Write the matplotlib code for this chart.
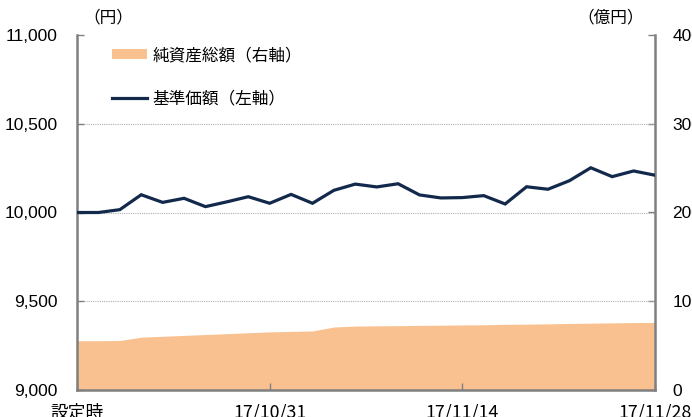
import matplotlib
matplotlib.use("Agg")
import matplotlib.pyplot as plt
from matplotlib.patches import Patch
from matplotlib.lines import Line2D

# ---- data ----
nav = [10000, 10000, 10016, 10100, 10057, 10080, 10033, 10060, 10089, 10052,
       10102, 10052, 10125, 10160, 10144, 10162, 10099, 10082, 10084, 10095,
       10048, 10145, 10131, 10179, 10252, 10202, 10234, 10210]
assets = [55.5, 55.5, 55.8, 59.5, 60.5, 61.5, 62.5, 63.5, 64.5, 65.5,
          66.0, 66.5, 71.0, 72.0, 72.3, 72.5, 72.8, 73.0, 73.3, 73.5,
          74.0, 74.2, 74.5, 75.0, 75.3, 75.6, 76.0, 76.2]
xtick_pos = [0, 9, 18, 27]
xtick_labels = ["設定時", "17/10/31", "17/11/14", "17/11/28"]
left_ticks = [9000, 9500, 10000, 10500, 11000]
left_labels = ["9,000", "9,500", "10,000", "10,500", "11,000"]
right_ticks = [0, 100, 200, 300, 400]
right_labels = ["0", "100", "200", "300", "400"]

JP = ["Noto Sans CJK JP", "DejaVu Sans"]
NUM = ["Liberation Sans", "DejaVu Sans"]
AREA = "#F9C190"
LINE = "#13294B"
SPINE = "#808080"

W, H = 692, 417
fig = plt.figure(figsize=(W / 100, H / 100), dpi=100)
L, R, T, B = 77, 655, 35, 390
ax = fig.add_axes([L / W, (H - B) / H, (R - L) / W, (B - T) / H])
ax2 = ax.twinx()

x = list(range(len(nav)))
ax2.fill_between(x, 0, assets, color=AREA, linewidth=0, zorder=1)
ax2.set_ylim(0, 400)
ax2.set_yticks(right_ticks)
ax2.set_yticklabels(right_labels, fontfamily=NUM, fontsize=12.5)

ax.set_zorder(ax2.get_zorder() + 1)
ax.patch.set_visible(False)
ax.plot(x, nav, color=LINE, linewidth=2.3, zorder=3, solid_joinstyle="miter")
ax.set_ylim(9000, 11000)
ax.set_xlim(0, len(nav) - 1)
ax.set_yticks(left_ticks)
ax.set_yticklabels(left_labels, fontfamily=NUM, fontsize=12.5)
ax.set_xticks(xtick_pos)
ax.set_xticklabels(xtick_labels, fontfamily=JP, fontsize=12.8)
for v in [9500, 10000, 10500]:
    ax.axhline(v, color="#b0b0b0", linewidth=0.8, linestyle=(0, (1, 1)), zorder=0.5)

for a in (ax, ax2):
    for s in a.spines.values():
        s.set_color(SPINE)
        s.set_linewidth(1.8)
    a.spines["top"].set_visible(False)
ax.spines["right"].set_visible(False)
ax2.spines["left"].set_visible(False)
ax2.spines["bottom"].set_visible(False)

ax.tick_params(axis="y", direction="in", length=5, width=1, color=SPINE, pad=14)
ax.tick_params(axis="x", direction="in", length=5, width=1, color=SPINE, pad=9.5)
ax2.tick_params(axis="y", direction="in", length=5, width=1, color=SPINE, pad=12.5)

fig.text(83 / W, 1 - 18 / H, "（円）", fontfamily=JP, fontsize=12, va="center", ha="left")
fig.text(577 / W, 1 - 18 / H, "（億円）", fontfamily=JP, fontsize=12, va="center", ha="left")

handles = [Patch(facecolor=AREA, edgecolor="none"),
           Line2D([0], [0], color=LINE, linewidth=2.3)]
labels = ["純資産総額（右軸）", "基準価額（左軸）"]
ax.legend(handles, labels, loc="upper left", bbox_to_anchor=(35 / (R - L), 1 - 12 / (B - T)),
          frameon=False, prop={"family": JP, "size": 12}, handlelength=2.1,
          handleheight=0.55, handletextpad=0.35, labelspacing=1.6, borderaxespad=0,
          borderpad=0)

fig.savefig("out.png", dpi=100)
